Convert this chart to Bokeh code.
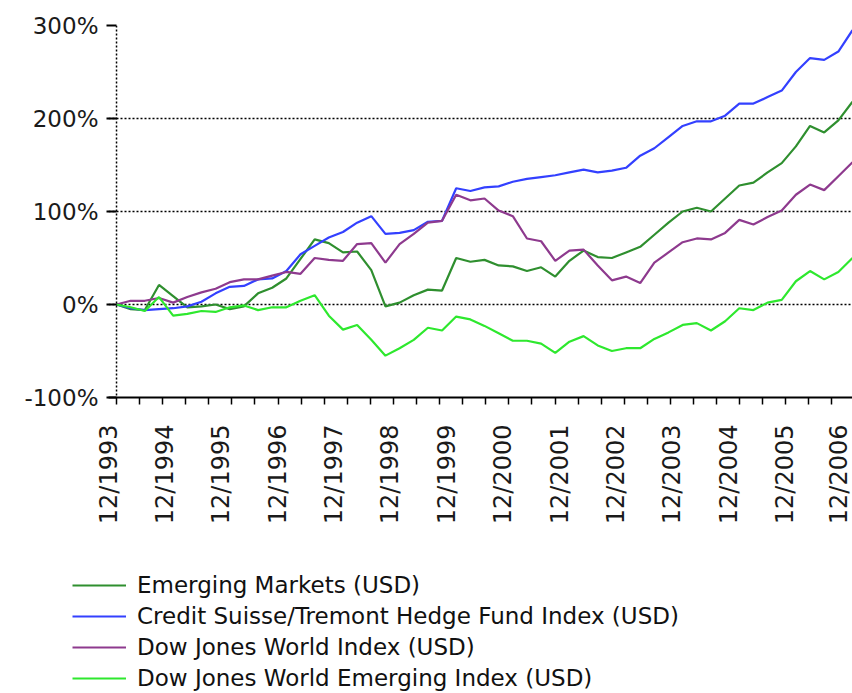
import numpy as np
from bokeh.plotting import figure
from bokeh.models import (Range1d, FixedTicker, PrintfTickFormatter, Legend,
                          LegendItem, Span)
from bokeh.layouts import column
from bokeh.embed import file_html
from bokeh.resources import INLINE

# ---------------- data (cumulative performance in %, quarterly readings) ----
# months elapsed since 12/1993
months = list(range(0, 157, 3))

emerging_markets = [0, -5, -6, 21, 9, -3, -2, 0, -5, -2, 12, 18, 28, 49, 70, 66,
                    56, 57, 37, -2, 2, 10, 16, 15, 50, 46, 48, 42, 41, 36, 40, 30,
                    47, 58, 51, 50, 56, 62, 75, 88, 100, 104, 100, 114, 128, 131,
                    142, 152, 170, 192, 185, 198, 218]
credit_suisse = [0, -4, -6, -5, -4, -2, 3, 12, 19, 20, 27, 28, 36, 54, 63, 72,
                 78, 88, 95, 76, 77, 80, 89, 90, 125, 122, 126, 127, 132, 135, 137,
                 139, 142, 145, 142, 144, 147, 160, 168, 180, 192, 197, 197, 203,
                 216, 216, 223, 230, 250, 265, 263, 272, 295]
dj_world = [0, 4, 4, 7, 2, 8, 13, 17, 24, 27, 27, 31, 35, 33, 50, 48, 47, 65, 66,
            45, 65, 76, 88, 90, 118, 112, 114, 101, 95, 71, 68, 47, 58, 59, 42, 26,
            30, 23, 45, 56, 67, 71, 70, 77, 91, 86, 94, 101, 118, 129, 123, 138, 153]
dj_world_emerging = [0, -3, -7, 8, -12, -10, -7, -8, -3, -1, -6, -3, -3, 4, 10, -12,
                     -27, -22, -38, -55, -47, -38, -25, -28, -13, -16, -23, -31, -39,
                     -39, -42, -52, -40, -34, -44, -50, -47, -47, -37, -30, -22, -20,
                     -28, -18, -4, -6, 2, 5, 25, 36, 27, 35, 50]

series_names = ["Emerging Markets (USD)",
                "Credit Suisse/Tremont Hedge Fund Index (USD)",
                "Dow Jones World Index (USD)",
                "Dow Jones World Emerging Index (USD)"]
series_colors = ["#2f8f2f", "#3340ff", "#8e3a8e", "#2ee82e"]
series_values = [emerging_markets, credit_suisse, dj_world, dj_world_emerging]

year_labels = ["12/1993", "12/1994", "12/1995", "12/1996", "12/1997", "12/1998",
               "12/1999", "12/2000", "12/2001", "12/2002", "12/2003", "12/2004",
               "12/2005", "12/2006"]
y_ticks = [-100, 0, 100, 200, 300]

# ---------------- styling constants ----------------------------------------
FONT = "DejaVu Sans"
label_shift = -1.7                       # labels sit slightly left of December
label_pos = [11.95 * i + label_shift for i in range(len(year_labels))]
minor_pos = [4.892 * i for i in range(32)]

p = figure(width=852, height=545, output_backend="svg", toolbar_location=None,
           x_range=Range1d(label_shift, 156), y_range=Range1d(-100, 300),
           min_border_left=108, min_border_right=0, min_border_top=25,
           min_border_bottom=148, outline_line_color=None,
           background_fill_color="white", border_fill_color="white")
p.frame_align = False

for name, col, vals in zip(series_names, series_colors, series_values):
    p.line(months, vals, line_color=col, line_width=2.2)

# y axis: labels + ticks; the dotted axis rule is drawn at the first month
yax = p.yaxis[0]
yax.ticker = FixedTicker(ticks=y_ticks, minor_ticks=[])
yax.formatter = PrintfTickFormatter(format="%d%%")
yax.axis_line_color = None
yax.major_tick_out = 2
yax.major_tick_in = 8
yax.major_tick_line_width = 2
yax.major_tick_line_color = "black"
yax.minor_tick_out = 0
yax.minor_tick_in = 0
yax.major_label_standoff = 8
yax.major_label_text_font = FONT
yax.major_label_text_font_size = "23px"
yax.major_label_text_color = "#1a1a1a"
p.add_layout(Span(location=0, dimension="height", line_color="black",
                  line_width=1.5, line_dash="2 2"))

# x axis
xax = p.xaxis[0]
xax.ticker = FixedTicker(ticks=label_pos, minor_ticks=minor_pos)
xax.major_label_overrides = {pos: lab for pos, lab in zip(label_pos, year_labels)}
xax.major_label_orientation = np.pi / 2
xax.major_label_standoff = 20
xax.major_label_text_font = FONT
xax.major_label_text_font_size = "24px"
xax.major_label_text_color = "#1a1a1a"
xax.axis_line_color = "black"
xax.axis_line_width = 2
xax.major_tick_out = 0
xax.major_tick_in = 0
xax.minor_tick_out = 7
xax.minor_tick_in = 0
xax.minor_tick_line_color = "black"
xax.minor_tick_line_width = 1.5

# grid
p.xgrid.visible = False
p.ygrid.ticker = FixedTicker(ticks=y_ticks)
p.ygrid.grid_line_color = "black"
p.ygrid.grid_line_width = 1.5
p.ygrid.grid_line_dash = "2 2"

# ---------------- legend panel (below the chart) ---------------------------
p2 = figure(width=852, height=148, output_backend="svg", toolbar_location=None,
            x_range=Range1d(0, 156), y_range=Range1d(1000, 1001),
            x_axis_location=None, y_axis_location=None, min_border=0,
            outline_line_color=None, border_fill_color="white",
            background_fill_color="white")
p2.frame_align = False
p2.grid.visible = False
items = []
for name, col, vals in zip(series_names, series_colors, series_values):
    r = p2.line(months, vals, line_color=col, line_width=2.2)   # off-range: legend only
    items.append(LegendItem(label=name, renderers=[r]))
legend = Legend(items=items, location=(72, 2), orientation="vertical",
                glyph_width=54, glyph_height=26, label_height=26,
                label_standoff=11, spacing=5, padding=0, margin=0,
                border_line_alpha=0, background_fill_alpha=0,
                label_text_font=FONT, label_text_font_size="23px",
                label_text_color="#111111")
p2.add_layout(legend)

layout = column(p, p2, spacing=0)
open("out.html", "w").write(file_html(layout, INLINE))
